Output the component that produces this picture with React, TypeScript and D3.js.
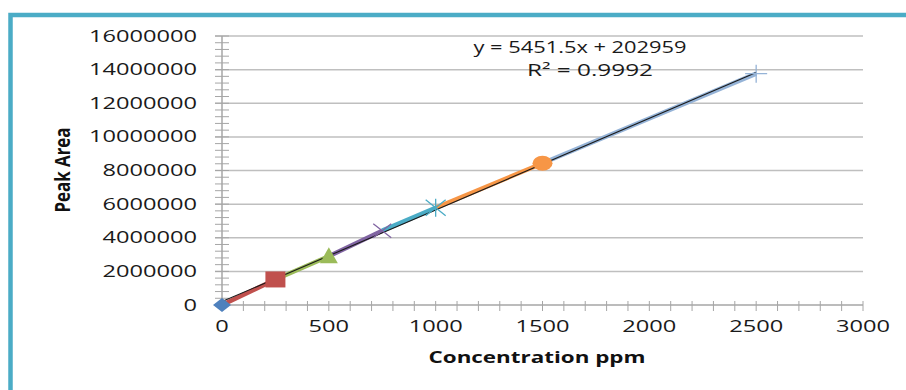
import * as d3 from 'd3'
import React from 'react'

// calibration points (concentration ppm vs peak area)
const concentrations = [0, 250, 500, 750, 1000, 1500, 2500]
const peakAreas = [0, 1520000, 2900000, 4420000, 5780000, 8430000, 13760000]
const seriesColors = ['#4F81BD', '#C0504D', '#9BBB59', '#8064A2', '#4BACC6', '#F79646', '#95B3D7']
const markerKinds = ['diamond', 'square', 'triangle', 'x', 'star', 'circle', 'plus']

const xTicks = [0, 500, 1000, 1500, 2000, 2500, 3000]
const yTicks = [0, 2000000, 4000000, 6000000, 8000000, 10000000, 12000000, 14000000, 16000000]

const slope = 5451.5
const intercept = 202959
const equationText = 'y = 5451.5x + 202959'
const r2Text = 'R² = 0.9992'

const W = 906
const H = 390
const font = '"Open Sans", "Liberation Sans", sans-serif'

const Marker = ({ kind, color }: any) => {
  switch (kind) {
    case 'diamond':
      return <path d="M-9,0L0,-7L9,0L0,7Z" fill={color} />
    case 'square':
      return <rect x={-10} y={-8} width={20} height={16} fill={color} />
    case 'triangle':
      return <path d="M0,-9L9,7L-9,7Z" fill={color} />
    case 'x':
      return <path d="M-9,-7L9,7M-9,7L9,-7" stroke={color} strokeWidth={1.3} fill="none" />
    case 'star':
      return <path d="M-10,-8L10,8M-10,8L10,-8M0,-9V9" stroke={color} strokeWidth={1.3} fill="none" />
    case 'circle':
      return <ellipse rx={10} ry={7.5} fill={color} />
    default:
      return <path d="M-11,0H11M0,-9V9" stroke={color} strokeWidth={1.3} fill="none" />
  }
}

const App = () => {
  const x = d3.scaleLinear().domain([0, 3000]).range([222, 863])
  const y = d3.scaleLinear().domain([0, 16000000]).range([305, 36])

  const xMinor = d3.range(0, 3001, 100)
  const yMinor = d3.range(0, 16000001, 400000)

  const trend = d3.line<number>()
    .x((d) => x(d))
    .y((d) => y(slope * d + intercept))([0, 2500])

  return (
    <svg width={W} height={H} style={{ position: 'absolute', left: 0, top: 0 }}>
      <rect width={W} height={H} fill="#ffffff" />
      {/* frame */}
      <path d={`M10.5,${H}V15H${W}`} fill="none" stroke="#4BACC6" strokeWidth={4.5} />

      {/* gridlines */}
      {yTicks.slice(1).map((t) => (
        <line key={t} x1={215} x2={863} y1={y(t)} y2={y(t)} stroke="#BFBFBF" strokeWidth={1.5} />
      ))}

      {/* axes */}
      <line x1={x(0)} x2={x(0)} y1={y(16000000)} y2={y(0)} stroke="#A6A6A6" strokeWidth={1.5} />
      <line x1={215} x2={x(3000)} y1={y(0)} y2={y(0)} stroke="#A6A6A6" strokeWidth={1.5} />
      {yMinor.map((t) => (
        <line key={t} x1={215} x2={229} y1={y(t)} y2={y(t)} stroke="#A6A6A6" strokeWidth={1} />
      ))}
      {xMinor.slice(1).map((t) => (
        <line key={t} x1={x(t)} x2={x(t)} y1={301} y2={311} stroke="#A6A6A6" strokeWidth={1} />
      ))}

      {/* tick labels */}
      {yTicks.map((t) => {
        const s = String(t)
        return (
          <text key={t} x={197} y={y(t)} dy="0.35em" textAnchor="end" fontFamily={font}
            fontSize={16} fill="#1a1a1a" textLength={s.length * 13.5} lengthAdjust="spacingAndGlyphs">
            {s}
          </text>
        )
      })}
      {xTicks.map((t) => {
        const s = String(t)
        return (
          <text key={t} x={x(t)} y={332} textAnchor="middle" fontFamily={font}
            fontSize={16} fill="#1a1a1a" textLength={s.length * 13.5} lengthAdjust="spacingAndGlyphs">
            {s}
          </text>
        )
      })}

      {/* axis titles */}
      <text x={537} y={363} textAnchor="middle" fontFamily={font} fontWeight="bold" fontSize={16}
        fill="#111" textLength={217} lengthAdjust="spacingAndGlyphs">
        Concentration ppm
      </text>
      <text transform="translate(70,170) rotate(-90)" textAnchor="middle" fontFamily={font}
        fontWeight="bold" fontSize={21} fill="#111" textLength={85} lengthAdjust="spacingAndGlyphs">
        Peak Area
      </text>

      {/* colored segments between consecutive points */}
      {concentrations.slice(1).map((c, i) => (
        <line key={c} x1={x(concentrations[i])} y1={y(peakAreas[i])} x2={x(c)} y2={y(peakAreas[i + 1])}
          stroke={seriesColors[i + 1]} strokeWidth={4.5} />
      ))}

      {/* linear trendline */}
      <path d={trend || ''} stroke="#1a1a1a" strokeWidth={1.1} fill="none" />

      {/* markers */}
      {concentrations.map((c, i) => (
        <g key={c} transform={`translate(${x(c)},${y(peakAreas[i])})`}>
          <Marker kind={markerKinds[i]} color={seriesColors[i]} />
        </g>
      ))}

      {/* equation */}
      <text x={580} y={53} textAnchor="middle" fontFamily={font} fontSize={16} fill="#1a1a1a"
        textLength={213} lengthAdjust="spacingAndGlyphs">
        {equationText}
      </text>
      <text x={590} y={76} textAnchor="middle" fontFamily={font} fontSize={16} fill="#1a1a1a"
        textLength={126} lengthAdjust="spacingAndGlyphs">
        {r2Text}
      </text>
    </svg>
  )
}

export default App
